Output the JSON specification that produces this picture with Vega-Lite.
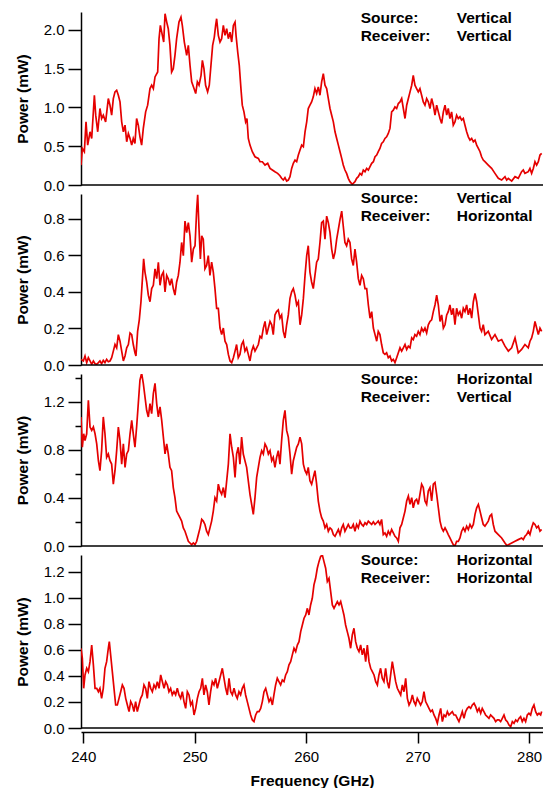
{
  "$schema": "https://vega.github.io/schema/vega-lite/v6.json",
  "background": "white",
  "padding": {"left": 15, "top": 10, "right": 0, "bottom": 2},
  "spacing": 9,
  "bounds": "flush",
  "config": {
    "view": {"stroke": null},
    "font": "Liberation Sans",
    "axis": {
      "grid": false,
      "labelOverlap": false,
      "tickCount": 20,
      "domainColor": "black",
      "domainWidth": 1.5,
      "tickColor": "black",
      "tickWidth": 1.5,
      "labelColor": "black",
      "labelFont": "Liberation Sans",
      "labelFontSize": 15,
      "titleColor": "black",
      "titleFont": "Liberation Sans",
      "titleFontSize": 15.5,
      "titleFontWeight": "bold"
    },
    "text": {"font": "Liberation Sans", "fontSize": 15.5, "fontWeight": "bold", "color": "black", "align": "left", "baseline": "alphabetic", "lineHeight": 18}
  },
  "datasets": {
    "labels": [
      {"panel": "vv", "source": "Vertical", "receiver": "Vertical"},
      {"panel": "vh", "source": "Vertical", "receiver": "Horizontal"},
      {"panel": "hv", "source": "Horizontal", "receiver": "Vertical"},
      {"panel": "hh", "source": "Horizontal", "receiver": "Horizontal"}
    ],
    "vv": [
      {"freq":239.80,"power":0.257},{"freq":239.92,"power":0.471},{"freq":240.10,"power":0.429},{"freq":240.25,"power":0.814},{"freq":240.40,"power":0.514},{"freq":240.61,"power":0.686},{"freq":240.76,"power":0.600},{"freq":241.00,"power":1.157},{"freq":241.12,"power":0.900},{"freq":241.30,"power":0.686},{"freq":241.50,"power":0.986},{"freq":241.65,"power":0.857},{"freq":241.80,"power":0.900},{"freq":242.01,"power":0.814},{"freq":242.25,"power":1.114},{"freq":242.40,"power":1.029},{"freq":242.55,"power":0.900},{"freq":242.70,"power":1.114},{"freq":242.85,"power":1.200},{"freq":243.00,"power":1.221},{"freq":243.15,"power":1.157},{"freq":243.30,"power":1.071},{"freq":243.45,"power":0.814},{"freq":243.60,"power":0.686},{"freq":243.75,"power":0.771},{"freq":243.90,"power":0.557},{"freq":244.05,"power":0.664},{"freq":244.20,"power":0.600},{"freq":244.35,"power":0.514},{"freq":244.49,"power":0.600},{"freq":244.64,"power":0.536},{"freq":244.79,"power":0.857},{"freq":244.94,"power":0.771},{"freq":245.09,"power":0.621},{"freq":245.24,"power":0.514},{"freq":245.39,"power":0.729},{"freq":245.60,"power":0.943},{"freq":245.78,"power":1.029},{"freq":245.99,"power":1.243},{"freq":246.14,"power":1.286},{"freq":246.29,"power":1.243},{"freq":246.44,"power":1.393},{"freq":246.68,"power":1.457},{"freq":246.80,"power":1.886},{"freq":246.92,"power":2.057},{"freq":247.10,"power":1.929},{"freq":247.22,"power":1.843},{"freq":247.34,"power":2.207},{"freq":247.49,"power":2.100},{"freq":247.63,"power":2.014},{"freq":247.78,"power":1.800},{"freq":247.93,"power":1.457},{"freq":248.08,"power":1.500},{"freq":248.23,"power":1.671},{"freq":248.38,"power":1.886},{"freq":248.59,"power":2.100},{"freq":248.77,"power":2.164},{"freq":248.89,"power":2.057},{"freq":249.07,"power":1.843},{"freq":249.28,"power":1.671},{"freq":249.43,"power":1.800},{"freq":249.58,"power":1.543},{"freq":249.73,"power":1.329},{"freq":249.94,"power":1.243},{"freq":250.09,"power":1.179},{"freq":250.24,"power":1.329},{"freq":250.39,"power":1.286},{"freq":250.57,"power":1.414},{"freq":250.69,"power":1.607},{"freq":250.83,"power":1.500},{"freq":250.98,"power":1.286},{"freq":251.16,"power":1.200},{"freq":251.31,"power":1.286},{"freq":251.46,"power":1.543},{"freq":251.61,"power":1.800},{"freq":251.76,"power":1.907},{"freq":251.88,"power":2.057},{"freq":251.97,"power":2.143},{"freq":252.12,"power":1.929},{"freq":252.27,"power":1.843},{"freq":252.42,"power":1.886},{"freq":252.57,"power":2.057},{"freq":252.72,"power":1.929},{"freq":252.87,"power":2.014},{"freq":253.02,"power":1.886},{"freq":253.17,"power":1.971},{"freq":253.32,"power":1.843},{"freq":253.47,"power":2.057},{"freq":253.62,"power":2.100},{"freq":253.71,"power":1.929},{"freq":253.86,"power":1.714},{"freq":254.00,"power":1.543},{"freq":254.15,"power":1.243},{"freq":254.27,"power":1.029},{"freq":254.42,"power":0.943},{"freq":254.57,"power":0.814},{"freq":254.69,"power":0.857},{"freq":254.81,"power":0.600},{"freq":254.96,"power":0.514},{"freq":255.17,"power":0.429},{"freq":255.41,"power":0.364},{"freq":255.71,"power":0.343},{"freq":255.86,"power":0.300},{"freq":256.07,"power":0.300},{"freq":256.31,"power":0.257},{"freq":256.55,"power":0.279},{"freq":256.76,"power":0.214},{"freq":256.97,"power":0.193},{"freq":257.20,"power":0.171},{"freq":257.44,"power":0.150},{"freq":257.65,"power":0.120},{"freq":257.80,"power":0.086},{"freq":257.95,"power":0.064},{"freq":258.10,"power":0.094},{"freq":258.25,"power":0.051},{"freq":258.40,"power":0.064},{"freq":258.55,"power":0.107},{"freq":258.70,"power":0.214},{"freq":258.85,"power":0.279},{"freq":259.00,"power":0.321},{"freq":259.15,"power":0.300},{"freq":259.30,"power":0.386},{"freq":259.45,"power":0.450},{"freq":259.60,"power":0.514},{"freq":259.75,"power":0.493},{"freq":259.90,"power":0.686},{"freq":260.05,"power":0.814},{"freq":260.19,"power":0.986},{"freq":260.34,"power":1.029},{"freq":260.49,"power":1.071},{"freq":260.64,"power":1.136},{"freq":260.79,"power":1.243},{"freq":260.94,"power":1.179},{"freq":261.09,"power":1.264},{"freq":261.24,"power":1.157},{"freq":261.39,"power":1.329},{"freq":261.54,"power":1.436},{"freq":261.69,"power":1.286},{"freq":261.84,"power":1.243},{"freq":261.99,"power":1.114},{"freq":262.14,"power":0.986},{"freq":262.29,"power":0.900},{"freq":262.44,"power":0.814},{"freq":262.59,"power":0.686},{"freq":262.74,"power":0.600},{"freq":262.89,"power":0.514},{"freq":263.04,"power":0.429},{"freq":263.19,"power":0.343},{"freq":263.33,"power":0.257},{"freq":263.48,"power":0.193},{"freq":263.63,"power":0.150},{"freq":263.78,"power":0.086},{"freq":263.93,"power":0.043},{"freq":264.14,"power":0.009},{"freq":264.38,"power":0.043},{"freq":264.53,"power":0.086},{"freq":264.68,"power":0.107},{"freq":264.83,"power":0.150},{"freq":264.98,"power":0.129},{"freq":265.13,"power":0.193},{"freq":265.28,"power":0.171},{"freq":265.43,"power":0.214},{"freq":265.58,"power":0.193},{"freq":265.73,"power":0.236},{"freq":265.88,"power":0.279},{"freq":266.03,"power":0.300},{"freq":266.18,"power":0.364},{"freq":266.33,"power":0.386},{"freq":266.47,"power":0.429},{"freq":266.62,"power":0.471},{"freq":266.77,"power":0.536},{"freq":266.92,"power":0.557},{"freq":267.07,"power":0.600},{"freq":267.22,"power":0.621},{"freq":267.37,"power":0.664},{"freq":267.52,"power":0.729},{"freq":267.67,"power":0.943},{"freq":267.82,"power":0.964},{"freq":267.97,"power":1.007},{"freq":268.12,"power":0.986},{"freq":268.27,"power":1.050},{"freq":268.42,"power":1.071},{"freq":268.57,"power":1.114},{"freq":268.72,"power":0.986},{"freq":268.87,"power":0.857},{"freq":269.02,"power":1.029},{"freq":269.17,"power":1.114},{"freq":269.32,"power":1.200},{"freq":269.47,"power":1.286},{"freq":269.61,"power":1.414},{"freq":269.76,"power":1.286},{"freq":269.91,"power":1.243},{"freq":270.06,"power":1.200},{"freq":270.21,"power":1.243},{"freq":270.36,"power":1.157},{"freq":270.51,"power":1.071},{"freq":270.66,"power":1.029},{"freq":270.81,"power":1.114},{"freq":270.96,"power":1.071},{"freq":271.11,"power":0.986},{"freq":271.26,"power":1.114},{"freq":271.41,"power":1.029},{"freq":271.56,"power":0.900},{"freq":271.71,"power":1.029},{"freq":271.86,"power":0.943},{"freq":272.01,"power":0.857},{"freq":272.16,"power":0.793},{"freq":272.31,"power":0.943},{"freq":272.46,"power":1.029},{"freq":272.61,"power":0.900},{"freq":272.75,"power":0.986},{"freq":272.90,"power":0.857},{"freq":273.05,"power":0.943},{"freq":273.20,"power":0.771},{"freq":273.35,"power":0.814},{"freq":273.50,"power":0.900},{"freq":273.65,"power":0.857},{"freq":273.80,"power":0.879},{"freq":273.95,"power":0.836},{"freq":274.10,"power":0.857},{"freq":274.25,"power":0.771},{"freq":274.40,"power":0.686},{"freq":274.55,"power":0.621},{"freq":274.70,"power":0.579},{"freq":274.85,"power":0.600},{"freq":275.00,"power":0.557},{"freq":275.15,"power":0.579},{"freq":275.30,"power":0.514},{"freq":275.45,"power":0.471},{"freq":275.60,"power":0.429},{"freq":275.74,"power":0.364},{"freq":275.89,"power":0.321},{"freq":276.04,"power":0.300},{"freq":276.34,"power":0.257},{"freq":276.64,"power":0.214},{"freq":276.94,"power":0.150},{"freq":277.24,"power":0.086},{"freq":277.54,"power":0.064},{"freq":277.84,"power":0.107},{"freq":277.99,"power":0.064},{"freq":278.14,"power":0.086},{"freq":278.44,"power":0.051},{"freq":278.74,"power":0.107},{"freq":279.03,"power":0.086},{"freq":279.33,"power":0.171},{"freq":279.48,"power":0.193},{"freq":279.63,"power":0.150},{"freq":279.93,"power":0.171},{"freq":280.08,"power":0.214},{"freq":280.23,"power":0.150},{"freq":280.38,"power":0.214},{"freq":280.53,"power":0.300},{"freq":280.68,"power":0.257},{"freq":280.83,"power":0.300},{"freq":280.98,"power":0.386},{"freq":281.13,"power":0.407}
    ],
    "vh": [
      {"freq":239.80,"power":0.031},{"freq":240.01,"power":0.022},{"freq":240.16,"power":0.049},{"freq":240.31,"power":0.013},{"freq":240.46,"power":0.040},{"freq":240.61,"power":0.022},{"freq":240.76,"power":0.004},{"freq":240.91,"power":0.022},{"freq":241.06,"power":0.007},{"freq":241.21,"power":0.004},{"freq":241.36,"power":0.013},{"freq":241.50,"power":0.022},{"freq":241.65,"power":0.007},{"freq":241.80,"power":0.025},{"freq":241.95,"power":0.013},{"freq":242.10,"power":0.031},{"freq":242.25,"power":0.018},{"freq":242.40,"power":0.022},{"freq":242.55,"power":0.040},{"freq":242.70,"power":0.076},{"freq":242.85,"power":0.112},{"freq":243.00,"power":0.094},{"freq":243.15,"power":0.166},{"freq":243.30,"power":0.130},{"freq":243.45,"power":0.076},{"freq":243.60,"power":0.022},{"freq":243.75,"power":0.049},{"freq":243.90,"power":0.094},{"freq":244.05,"power":0.112},{"freq":244.20,"power":0.175},{"freq":244.35,"power":0.166},{"freq":244.49,"power":0.112},{"freq":244.64,"power":0.067},{"freq":244.73,"power":0.049},{"freq":244.88,"power":0.184},{"freq":245.03,"power":0.247},{"freq":245.18,"power":0.346},{"freq":245.33,"power":0.490},{"freq":245.42,"power":0.580},{"freq":245.54,"power":0.508},{"freq":245.69,"power":0.454},{"freq":245.84,"power":0.382},{"freq":245.99,"power":0.346},{"freq":246.14,"power":0.418},{"freq":246.29,"power":0.436},{"freq":246.44,"power":0.526},{"freq":246.59,"power":0.472},{"freq":246.74,"power":0.562},{"freq":246.89,"power":0.436},{"freq":247.04,"power":0.490},{"freq":247.19,"power":0.508},{"freq":247.34,"power":0.400},{"freq":247.49,"power":0.490},{"freq":247.63,"power":0.472},{"freq":247.78,"power":0.436},{"freq":247.93,"power":0.472},{"freq":248.08,"power":0.418},{"freq":248.23,"power":0.382},{"freq":248.38,"power":0.454},{"freq":248.53,"power":0.490},{"freq":248.68,"power":0.562},{"freq":248.83,"power":0.670},{"freq":248.98,"power":0.598},{"freq":249.13,"power":0.787},{"freq":249.28,"power":0.724},{"freq":249.43,"power":0.778},{"freq":249.58,"power":0.706},{"freq":249.73,"power":0.562},{"freq":249.88,"power":0.634},{"freq":250.03,"power":0.652},{"freq":250.18,"power":0.850},{"freq":250.27,"power":0.931},{"freq":250.39,"power":0.742},{"freq":250.51,"power":0.580},{"freq":250.63,"power":0.706},{"freq":250.77,"power":0.688},{"freq":250.92,"power":0.526},{"freq":251.07,"power":0.544},{"freq":251.22,"power":0.598},{"freq":251.37,"power":0.490},{"freq":251.52,"power":0.562},{"freq":251.67,"power":0.508},{"freq":251.82,"power":0.418},{"freq":251.97,"power":0.310},{"freq":252.12,"power":0.310},{"freq":252.27,"power":0.202},{"freq":252.42,"power":0.166},{"freq":252.57,"power":0.202},{"freq":252.72,"power":0.130},{"freq":252.87,"power":0.112},{"freq":253.02,"power":0.058},{"freq":253.17,"power":0.022},{"freq":253.32,"power":0.013},{"freq":253.47,"power":0.040},{"freq":253.62,"power":0.076},{"freq":253.76,"power":0.112},{"freq":253.91,"power":0.040},{"freq":254.06,"power":0.058},{"freq":254.21,"power":0.112},{"freq":254.36,"power":0.130},{"freq":254.51,"power":0.076},{"freq":254.66,"power":0.094},{"freq":254.81,"power":0.058},{"freq":254.96,"power":0.022},{"freq":255.11,"power":0.076},{"freq":255.26,"power":0.103},{"freq":255.41,"power":0.076},{"freq":255.56,"power":0.094},{"freq":255.71,"power":0.112},{"freq":255.86,"power":0.157},{"freq":256.01,"power":0.148},{"freq":256.16,"power":0.202},{"freq":256.31,"power":0.238},{"freq":256.46,"power":0.166},{"freq":256.61,"power":0.202},{"freq":256.76,"power":0.238},{"freq":256.91,"power":0.220},{"freq":257.05,"power":0.166},{"freq":257.20,"power":0.274},{"freq":257.35,"power":0.292},{"freq":257.50,"power":0.301},{"freq":257.65,"power":0.256},{"freq":257.80,"power":0.274},{"freq":257.95,"power":0.184},{"freq":258.10,"power":0.148},{"freq":258.25,"power":0.220},{"freq":258.40,"power":0.274},{"freq":258.55,"power":0.364},{"freq":258.70,"power":0.400},{"freq":258.85,"power":0.418},{"freq":259.00,"power":0.382},{"freq":259.15,"power":0.328},{"freq":259.30,"power":0.346},{"freq":259.45,"power":0.220},{"freq":259.60,"power":0.274},{"freq":259.75,"power":0.364},{"freq":259.90,"power":0.490},{"freq":260.05,"power":0.598},{"freq":260.19,"power":0.652},{"freq":260.34,"power":0.508},{"freq":260.49,"power":0.454},{"freq":260.64,"power":0.418},{"freq":260.79,"power":0.490},{"freq":260.94,"power":0.562},{"freq":261.09,"power":0.580},{"freq":261.24,"power":0.670},{"freq":261.39,"power":0.778},{"freq":261.54,"power":0.787},{"freq":261.69,"power":0.688},{"freq":261.84,"power":0.814},{"freq":261.99,"power":0.778},{"freq":262.14,"power":0.724},{"freq":262.29,"power":0.634},{"freq":262.44,"power":0.580},{"freq":262.59,"power":0.616},{"freq":262.74,"power":0.688},{"freq":262.89,"power":0.742},{"freq":263.04,"power":0.796},{"freq":263.19,"power":0.841},{"freq":263.33,"power":0.760},{"freq":263.48,"power":0.670},{"freq":263.63,"power":0.652},{"freq":263.78,"power":0.688},{"freq":263.93,"power":0.670},{"freq":264.08,"power":0.580},{"freq":264.23,"power":0.544},{"freq":264.38,"power":0.634},{"freq":264.53,"power":0.562},{"freq":264.68,"power":0.472},{"freq":264.83,"power":0.436},{"freq":264.98,"power":0.490},{"freq":265.13,"power":0.472},{"freq":265.28,"power":0.418},{"freq":265.43,"power":0.418},{"freq":265.58,"power":0.328},{"freq":265.73,"power":0.256},{"freq":265.88,"power":0.292},{"freq":266.03,"power":0.202},{"freq":266.18,"power":0.166},{"freq":266.33,"power":0.130},{"freq":266.47,"power":0.184},{"freq":266.62,"power":0.166},{"freq":266.77,"power":0.112},{"freq":266.92,"power":0.067},{"freq":267.07,"power":0.058},{"freq":267.22,"power":0.067},{"freq":267.37,"power":0.040},{"freq":267.52,"power":0.049},{"freq":267.67,"power":0.022},{"freq":267.82,"power":0.031},{"freq":267.97,"power":0.013},{"freq":268.12,"power":0.040},{"freq":268.27,"power":0.067},{"freq":268.42,"power":0.094},{"freq":268.57,"power":0.076},{"freq":268.72,"power":0.094},{"freq":268.87,"power":0.112},{"freq":269.02,"power":0.085},{"freq":269.17,"power":0.103},{"freq":269.32,"power":0.094},{"freq":269.47,"power":0.148},{"freq":269.61,"power":0.139},{"freq":269.76,"power":0.166},{"freq":269.91,"power":0.157},{"freq":270.06,"power":0.184},{"freq":270.21,"power":0.166},{"freq":270.36,"power":0.202},{"freq":270.51,"power":0.184},{"freq":270.66,"power":0.202},{"freq":270.81,"power":0.175},{"freq":270.96,"power":0.220},{"freq":271.11,"power":0.238},{"freq":271.26,"power":0.247},{"freq":271.41,"power":0.292},{"freq":271.56,"power":0.328},{"freq":271.71,"power":0.382},{"freq":271.86,"power":0.328},{"freq":272.01,"power":0.238},{"freq":272.16,"power":0.274},{"freq":272.31,"power":0.202},{"freq":272.46,"power":0.220},{"freq":272.61,"power":0.274},{"freq":272.75,"power":0.292},{"freq":272.90,"power":0.328},{"freq":273.05,"power":0.274},{"freq":273.20,"power":0.310},{"freq":273.35,"power":0.220},{"freq":273.50,"power":0.310},{"freq":273.65,"power":0.274},{"freq":273.80,"power":0.292},{"freq":273.95,"power":0.256},{"freq":274.10,"power":0.310},{"freq":274.25,"power":0.292},{"freq":274.40,"power":0.328},{"freq":274.55,"power":0.274},{"freq":274.70,"power":0.310},{"freq":274.85,"power":0.256},{"freq":275.00,"power":0.346},{"freq":275.15,"power":0.391},{"freq":275.30,"power":0.346},{"freq":275.45,"power":0.274},{"freq":275.60,"power":0.202},{"freq":275.74,"power":0.184},{"freq":275.89,"power":0.220},{"freq":276.04,"power":0.166},{"freq":276.34,"power":0.184},{"freq":276.64,"power":0.139},{"freq":276.94,"power":0.166},{"freq":277.24,"power":0.130},{"freq":277.54,"power":0.139},{"freq":277.84,"power":0.103},{"freq":278.14,"power":0.076},{"freq":278.44,"power":0.094},{"freq":278.74,"power":0.148},{"freq":279.03,"power":0.067},{"freq":279.33,"power":0.085},{"freq":279.63,"power":0.112},{"freq":279.93,"power":0.094},{"freq":280.08,"power":0.130},{"freq":280.23,"power":0.148},{"freq":280.38,"power":0.184},{"freq":280.53,"power":0.238},{"freq":280.68,"power":0.202},{"freq":280.83,"power":0.166},{"freq":280.98,"power":0.202},{"freq":281.13,"power":0.184}
    ],
    "hv": [
      {"freq":239.80,"power":1.073},{"freq":239.92,"power":0.821},{"freq":240.04,"power":0.933},{"freq":240.16,"power":0.877},{"freq":240.31,"power":0.933},{"freq":240.46,"power":1.212},{"freq":240.61,"power":0.989},{"freq":240.76,"power":0.961},{"freq":240.91,"power":0.989},{"freq":241.06,"power":0.933},{"freq":241.21,"power":0.849},{"freq":241.36,"power":0.709},{"freq":241.50,"power":0.626},{"freq":241.65,"power":0.793},{"freq":241.80,"power":1.073},{"freq":241.95,"power":0.933},{"freq":242.10,"power":0.737},{"freq":242.25,"power":0.765},{"freq":242.40,"power":0.709},{"freq":242.55,"power":0.681},{"freq":242.70,"power":0.514},{"freq":242.85,"power":0.626},{"freq":243.00,"power":0.793},{"freq":243.15,"power":0.989},{"freq":243.30,"power":0.877},{"freq":243.45,"power":0.681},{"freq":243.60,"power":0.849},{"freq":243.75,"power":0.654},{"freq":243.90,"power":0.765},{"freq":244.05,"power":0.793},{"freq":244.20,"power":0.933},{"freq":244.35,"power":1.045},{"freq":244.49,"power":0.933},{"freq":244.64,"power":0.821},{"freq":244.79,"power":0.989},{"freq":244.94,"power":1.184},{"freq":245.09,"power":1.380},{"freq":245.24,"power":1.436},{"freq":245.39,"power":1.352},{"freq":245.54,"power":1.240},{"freq":245.69,"power":1.128},{"freq":245.84,"power":1.073},{"freq":245.99,"power":1.184},{"freq":246.14,"power":1.100},{"freq":246.29,"power":1.268},{"freq":246.44,"power":1.352},{"freq":246.59,"power":1.184},{"freq":246.74,"power":1.073},{"freq":246.89,"power":1.156},{"freq":247.04,"power":1.045},{"freq":247.19,"power":0.905},{"freq":247.34,"power":0.765},{"freq":247.49,"power":0.849},{"freq":247.63,"power":0.765},{"freq":247.78,"power":0.654},{"freq":247.93,"power":0.626},{"freq":248.08,"power":0.486},{"freq":248.23,"power":0.402},{"freq":248.38,"power":0.290},{"freq":248.53,"power":0.263},{"freq":248.68,"power":0.235},{"freq":248.83,"power":0.207},{"freq":248.98,"power":0.151},{"freq":249.13,"power":0.123},{"freq":249.28,"power":0.081},{"freq":249.43,"power":0.039},{"freq":249.58,"power":0.025},{"freq":249.73,"power":0.011},{"freq":249.88,"power":0.025},{"freq":250.03,"power":0.011},{"freq":250.18,"power":0.039},{"freq":250.33,"power":0.095},{"freq":250.48,"power":0.151},{"freq":250.63,"power":0.221},{"freq":250.77,"power":0.207},{"freq":250.92,"power":0.179},{"freq":251.07,"power":0.123},{"freq":251.22,"power":0.095},{"freq":251.37,"power":0.151},{"freq":251.52,"power":0.207},{"freq":251.67,"power":0.290},{"freq":251.82,"power":0.402},{"freq":251.97,"power":0.374},{"freq":252.12,"power":0.514},{"freq":252.27,"power":0.458},{"freq":252.42,"power":0.430},{"freq":252.57,"power":0.486},{"freq":252.72,"power":0.402},{"freq":252.87,"power":0.542},{"freq":253.02,"power":0.681},{"freq":253.17,"power":0.933},{"freq":253.32,"power":0.821},{"freq":253.47,"power":0.737},{"freq":253.62,"power":0.570},{"freq":253.76,"power":0.765},{"freq":253.91,"power":0.821},{"freq":254.06,"power":0.681},{"freq":254.21,"power":0.905},{"freq":254.36,"power":0.765},{"freq":254.51,"power":0.709},{"freq":254.66,"power":0.654},{"freq":254.81,"power":0.542},{"freq":254.96,"power":0.430},{"freq":255.11,"power":0.346},{"freq":255.26,"power":0.263},{"freq":255.41,"power":0.402},{"freq":255.56,"power":0.570},{"freq":255.71,"power":0.654},{"freq":255.86,"power":0.737},{"freq":256.01,"power":0.793},{"freq":256.16,"power":0.765},{"freq":256.31,"power":0.849},{"freq":256.46,"power":0.821},{"freq":256.61,"power":0.765},{"freq":256.76,"power":0.793},{"freq":256.91,"power":0.709},{"freq":257.05,"power":0.737},{"freq":257.20,"power":0.654},{"freq":257.35,"power":0.737},{"freq":257.50,"power":0.793},{"freq":257.65,"power":0.681},{"freq":257.80,"power":0.877},{"freq":257.95,"power":1.045},{"freq":258.10,"power":1.128},{"freq":258.25,"power":0.961},{"freq":258.40,"power":0.905},{"freq":258.55,"power":0.765},{"freq":258.70,"power":0.598},{"freq":258.85,"power":0.709},{"freq":259.00,"power":0.765},{"freq":259.15,"power":0.821},{"freq":259.30,"power":0.849},{"freq":259.45,"power":0.905},{"freq":259.60,"power":0.849},{"freq":259.75,"power":0.681},{"freq":259.90,"power":0.626},{"freq":260.05,"power":0.598},{"freq":260.19,"power":0.654},{"freq":260.34,"power":0.542},{"freq":260.49,"power":0.514},{"freq":260.64,"power":0.570},{"freq":260.79,"power":0.626},{"freq":260.94,"power":0.514},{"freq":261.09,"power":0.374},{"freq":261.24,"power":0.290},{"freq":261.39,"power":0.235},{"freq":261.54,"power":0.207},{"freq":261.69,"power":0.151},{"freq":261.84,"power":0.179},{"freq":261.99,"power":0.123},{"freq":262.14,"power":0.151},{"freq":262.29,"power":0.137},{"freq":262.44,"power":0.095},{"freq":262.59,"power":0.081},{"freq":262.74,"power":0.109},{"freq":262.89,"power":0.137},{"freq":263.04,"power":0.095},{"freq":263.19,"power":0.151},{"freq":263.33,"power":0.179},{"freq":263.48,"power":0.123},{"freq":263.63,"power":0.151},{"freq":263.78,"power":0.179},{"freq":263.93,"power":0.151},{"freq":264.08,"power":0.151},{"freq":264.23,"power":0.179},{"freq":264.38,"power":0.123},{"freq":264.53,"power":0.179},{"freq":264.68,"power":0.151},{"freq":264.83,"power":0.207},{"freq":264.98,"power":0.179},{"freq":265.13,"power":0.165},{"freq":265.28,"power":0.193},{"freq":265.43,"power":0.179},{"freq":265.58,"power":0.207},{"freq":265.73,"power":0.193},{"freq":265.88,"power":0.179},{"freq":266.03,"power":0.201},{"freq":266.18,"power":0.179},{"freq":266.33,"power":0.193},{"freq":266.47,"power":0.207},{"freq":266.62,"power":0.179},{"freq":266.77,"power":0.221},{"freq":266.92,"power":0.095},{"freq":267.07,"power":0.109},{"freq":267.22,"power":0.081},{"freq":267.37,"power":0.123},{"freq":267.52,"power":0.095},{"freq":267.67,"power":0.137},{"freq":267.82,"power":0.109},{"freq":267.97,"power":0.081},{"freq":268.12,"power":0.067},{"freq":268.27,"power":0.039},{"freq":268.42,"power":0.151},{"freq":268.57,"power":0.179},{"freq":268.72,"power":0.235},{"freq":268.87,"power":0.290},{"freq":269.02,"power":0.374},{"freq":269.17,"power":0.416},{"freq":269.32,"power":0.346},{"freq":269.47,"power":0.402},{"freq":269.61,"power":0.318},{"freq":269.76,"power":0.374},{"freq":269.91,"power":0.388},{"freq":270.06,"power":0.346},{"freq":270.21,"power":0.430},{"freq":270.36,"power":0.514},{"freq":270.51,"power":0.486},{"freq":270.66,"power":0.374},{"freq":270.81,"power":0.346},{"freq":270.96,"power":0.458},{"freq":271.11,"power":0.486},{"freq":271.26,"power":0.374},{"freq":271.41,"power":0.514},{"freq":271.56,"power":0.528},{"freq":271.71,"power":0.430},{"freq":271.86,"power":0.318},{"freq":272.01,"power":0.207},{"freq":272.16,"power":0.151},{"freq":272.31,"power":0.123},{"freq":272.46,"power":0.151},{"freq":272.61,"power":0.123},{"freq":272.75,"power":0.095},{"freq":272.90,"power":0.067},{"freq":273.05,"power":0.039},{"freq":273.20,"power":0.011},{"freq":273.35,"power":0.000},{"freq":273.50,"power":0.039},{"freq":273.65,"power":0.039},{"freq":273.80,"power":0.067},{"freq":273.95,"power":0.123},{"freq":274.10,"power":0.151},{"freq":274.25,"power":0.123},{"freq":274.40,"power":0.165},{"freq":274.55,"power":0.137},{"freq":274.70,"power":0.179},{"freq":274.85,"power":0.151},{"freq":275.00,"power":0.179},{"freq":275.15,"power":0.263},{"freq":275.30,"power":0.318},{"freq":275.45,"power":0.346},{"freq":275.60,"power":0.290},{"freq":275.74,"power":0.235},{"freq":275.89,"power":0.179},{"freq":276.04,"power":0.165},{"freq":276.34,"power":0.207},{"freq":276.49,"power":0.249},{"freq":276.64,"power":0.263},{"freq":276.79,"power":0.179},{"freq":276.94,"power":0.123},{"freq":277.24,"power":0.095},{"freq":277.54,"power":0.067},{"freq":277.84,"power":0.025},{"freq":277.99,"power":0.006},{"freq":278.14,"power":0.011},{"freq":278.44,"power":0.025},{"freq":278.74,"power":0.039},{"freq":279.03,"power":0.053},{"freq":279.33,"power":0.067},{"freq":279.48,"power":0.053},{"freq":279.63,"power":0.081},{"freq":279.78,"power":0.095},{"freq":279.93,"power":0.123},{"freq":280.08,"power":0.095},{"freq":280.23,"power":0.151},{"freq":280.38,"power":0.193},{"freq":280.53,"power":0.179},{"freq":280.68,"power":0.151},{"freq":280.83,"power":0.165},{"freq":280.98,"power":0.123},{"freq":281.13,"power":0.137}
    ],
    "hh": [
      {"freq":239.80,"power":0.613},{"freq":239.92,"power":0.536},{"freq":240.04,"power":0.305},{"freq":240.16,"power":0.408},{"freq":240.31,"power":0.459},{"freq":240.46,"power":0.433},{"freq":240.61,"power":0.510},{"freq":240.76,"power":0.638},{"freq":240.91,"power":0.485},{"freq":241.06,"power":0.305},{"freq":241.21,"power":0.305},{"freq":241.36,"power":0.279},{"freq":241.50,"power":0.305},{"freq":241.65,"power":0.228},{"freq":241.80,"power":0.305},{"freq":241.95,"power":0.459},{"freq":242.10,"power":0.510},{"freq":242.25,"power":0.613},{"freq":242.34,"power":0.664},{"freq":242.49,"power":0.536},{"freq":242.61,"power":0.433},{"freq":242.76,"power":0.305},{"freq":242.91,"power":0.177},{"freq":243.06,"power":0.177},{"freq":243.21,"power":0.228},{"freq":243.36,"power":0.279},{"freq":243.51,"power":0.331},{"freq":243.66,"power":0.305},{"freq":243.81,"power":0.228},{"freq":243.96,"power":0.177},{"freq":244.11,"power":0.126},{"freq":244.26,"power":0.203},{"freq":244.41,"power":0.177},{"freq":244.55,"power":0.126},{"freq":244.70,"power":0.203},{"freq":244.85,"power":0.126},{"freq":245.00,"power":0.177},{"freq":245.15,"power":0.228},{"freq":245.30,"power":0.254},{"freq":245.45,"power":0.331},{"freq":245.60,"power":0.305},{"freq":245.75,"power":0.228},{"freq":245.90,"power":0.356},{"freq":246.05,"power":0.305},{"freq":246.20,"power":0.279},{"freq":246.35,"power":0.331},{"freq":246.50,"power":0.305},{"freq":246.65,"power":0.356},{"freq":246.80,"power":0.305},{"freq":246.95,"power":0.408},{"freq":247.10,"power":0.356},{"freq":247.25,"power":0.305},{"freq":247.40,"power":0.356},{"freq":247.55,"power":0.331},{"freq":247.69,"power":0.279},{"freq":247.84,"power":0.305},{"freq":247.99,"power":0.254},{"freq":248.14,"power":0.279},{"freq":248.29,"power":0.254},{"freq":248.44,"power":0.305},{"freq":248.59,"power":0.254},{"freq":248.74,"power":0.228},{"freq":248.89,"power":0.279},{"freq":249.04,"power":0.203},{"freq":249.19,"power":0.151},{"freq":249.34,"power":0.279},{"freq":249.49,"power":0.254},{"freq":249.64,"power":0.177},{"freq":249.79,"power":0.203},{"freq":249.94,"power":0.100},{"freq":250.09,"power":0.151},{"freq":250.24,"power":0.228},{"freq":250.39,"power":0.279},{"freq":250.54,"power":0.305},{"freq":250.69,"power":0.382},{"freq":250.83,"power":0.254},{"freq":250.98,"power":0.331},{"freq":251.13,"power":0.279},{"freq":251.28,"power":0.177},{"freq":251.43,"power":0.279},{"freq":251.58,"power":0.356},{"freq":251.73,"power":0.331},{"freq":251.88,"power":0.382},{"freq":252.03,"power":0.305},{"freq":252.18,"power":0.356},{"freq":252.33,"power":0.408},{"freq":252.48,"power":0.459},{"freq":252.63,"power":0.382},{"freq":252.78,"power":0.305},{"freq":252.93,"power":0.254},{"freq":253.08,"power":0.382},{"freq":253.23,"power":0.279},{"freq":253.38,"power":0.254},{"freq":253.53,"power":0.305},{"freq":253.68,"power":0.254},{"freq":253.82,"power":0.228},{"freq":253.97,"power":0.279},{"freq":254.12,"power":0.254},{"freq":254.27,"power":0.305},{"freq":254.42,"power":0.331},{"freq":254.57,"power":0.254},{"freq":254.72,"power":0.203},{"freq":254.87,"power":0.151},{"freq":255.02,"power":0.100},{"freq":255.17,"power":0.062},{"freq":255.32,"power":0.049},{"freq":255.47,"power":0.100},{"freq":255.62,"power":0.126},{"freq":255.77,"power":0.126},{"freq":255.92,"power":0.151},{"freq":256.07,"power":0.203},{"freq":256.22,"power":0.279},{"freq":256.37,"power":0.305},{"freq":256.52,"power":0.254},{"freq":256.67,"power":0.203},{"freq":256.82,"power":0.228},{"freq":256.97,"power":0.177},{"freq":257.11,"power":0.254},{"freq":257.26,"power":0.331},{"freq":257.41,"power":0.382},{"freq":257.56,"power":0.356},{"freq":257.71,"power":0.331},{"freq":257.86,"power":0.369},{"freq":258.01,"power":0.356},{"freq":258.16,"power":0.408},{"freq":258.31,"power":0.433},{"freq":258.46,"power":0.485},{"freq":258.61,"power":0.510},{"freq":258.76,"power":0.562},{"freq":258.91,"power":0.613},{"freq":259.06,"power":0.587},{"freq":259.21,"power":0.638},{"freq":259.36,"power":0.664},{"freq":259.51,"power":0.741},{"freq":259.66,"power":0.792},{"freq":259.81,"power":0.844},{"freq":259.96,"power":0.869},{"freq":260.11,"power":0.920},{"freq":260.25,"power":0.869},{"freq":260.40,"power":0.946},{"freq":260.55,"power":0.997},{"freq":260.70,"power":1.100},{"freq":260.85,"power":1.151},{"freq":261.00,"power":1.228},{"freq":261.15,"power":1.279},{"freq":261.30,"power":1.318},{"freq":261.45,"power":1.331},{"freq":261.60,"power":1.279},{"freq":261.75,"power":1.228},{"freq":261.90,"power":1.126},{"freq":262.05,"power":1.151},{"freq":262.20,"power":1.049},{"freq":262.35,"power":0.946},{"freq":262.50,"power":0.920},{"freq":262.65,"power":0.946},{"freq":262.80,"power":0.972},{"freq":262.95,"power":0.946},{"freq":263.10,"power":0.972},{"freq":263.25,"power":0.920},{"freq":263.39,"power":0.869},{"freq":263.54,"power":0.792},{"freq":263.69,"power":0.741},{"freq":263.84,"power":0.690},{"freq":263.99,"power":0.613},{"freq":264.14,"power":0.715},{"freq":264.29,"power":0.767},{"freq":264.44,"power":0.664},{"freq":264.59,"power":0.613},{"freq":264.74,"power":0.587},{"freq":264.89,"power":0.638},{"freq":265.04,"power":0.562},{"freq":265.19,"power":0.613},{"freq":265.34,"power":0.510},{"freq":265.49,"power":0.638},{"freq":265.64,"power":0.510},{"freq":265.79,"power":0.459},{"freq":265.94,"power":0.433},{"freq":266.09,"power":0.408},{"freq":266.24,"power":0.356},{"freq":266.39,"power":0.331},{"freq":266.53,"power":0.408},{"freq":266.68,"power":0.459},{"freq":266.83,"power":0.382},{"freq":266.98,"power":0.356},{"freq":267.13,"power":0.459},{"freq":267.28,"power":0.356},{"freq":267.43,"power":0.305},{"freq":267.58,"power":0.408},{"freq":267.73,"power":0.510},{"freq":267.88,"power":0.433},{"freq":268.03,"power":0.356},{"freq":268.18,"power":0.305},{"freq":268.33,"power":0.279},{"freq":268.48,"power":0.254},{"freq":268.63,"power":0.331},{"freq":268.78,"power":0.279},{"freq":268.93,"power":0.382},{"freq":269.08,"power":0.228},{"freq":269.23,"power":0.177},{"freq":269.38,"power":0.203},{"freq":269.53,"power":0.254},{"freq":269.67,"power":0.203},{"freq":269.82,"power":0.177},{"freq":269.97,"power":0.228},{"freq":270.12,"power":0.203},{"freq":270.27,"power":0.177},{"freq":270.42,"power":0.203},{"freq":270.57,"power":0.279},{"freq":270.72,"power":0.203},{"freq":270.87,"power":0.177},{"freq":271.02,"power":0.151},{"freq":271.17,"power":0.126},{"freq":271.32,"power":0.138},{"freq":271.47,"power":0.100},{"freq":271.62,"power":0.074},{"freq":271.77,"power":0.036},{"freq":271.92,"power":0.100},{"freq":272.07,"power":0.151},{"freq":272.22,"power":0.049},{"freq":272.37,"power":0.100},{"freq":272.52,"power":0.087},{"freq":272.67,"power":0.126},{"freq":272.81,"power":0.100},{"freq":272.96,"power":0.113},{"freq":273.11,"power":0.126},{"freq":273.26,"power":0.100},{"freq":273.41,"power":0.100},{"freq":273.56,"power":0.074},{"freq":273.71,"power":0.049},{"freq":273.86,"power":0.087},{"freq":274.01,"power":0.126},{"freq":274.16,"power":0.074},{"freq":274.31,"power":0.126},{"freq":274.46,"power":0.151},{"freq":274.61,"power":0.164},{"freq":274.76,"power":0.151},{"freq":274.91,"power":0.177},{"freq":275.06,"power":0.190},{"freq":275.21,"power":0.164},{"freq":275.36,"power":0.126},{"freq":275.51,"power":0.151},{"freq":275.66,"power":0.113},{"freq":275.80,"power":0.151},{"freq":275.95,"power":0.126},{"freq":276.10,"power":0.100},{"freq":276.25,"power":0.087},{"freq":276.40,"power":0.074},{"freq":276.55,"power":0.100},{"freq":276.70,"power":0.087},{"freq":276.85,"power":0.074},{"freq":277.00,"power":0.049},{"freq":277.15,"power":0.062},{"freq":277.30,"power":0.062},{"freq":277.45,"power":0.049},{"freq":277.60,"power":0.074},{"freq":277.75,"power":0.100},{"freq":277.90,"power":0.062},{"freq":278.05,"power":0.049},{"freq":278.20,"power":0.023},{"freq":278.35,"power":0.010},{"freq":278.50,"power":0.049},{"freq":278.65,"power":0.036},{"freq":278.80,"power":0.062},{"freq":278.95,"power":0.049},{"freq":279.09,"power":0.074},{"freq":279.24,"power":0.087},{"freq":279.39,"power":0.049},{"freq":279.54,"power":0.074},{"freq":279.69,"power":0.049},{"freq":279.84,"power":0.100},{"freq":279.99,"power":0.113},{"freq":280.14,"power":0.100},{"freq":280.29,"power":0.151},{"freq":280.44,"power":0.177},{"freq":280.59,"power":0.126},{"freq":280.74,"power":0.100},{"freq":280.89,"power":0.113},{"freq":281.04,"power":0.100},{"freq":281.13,"power":0.126}
    ]
  },
  "vconcat": [
    {
      "width": 462,
      "height": 173,
      "layer": [
        {
          "data": {"name": "vv"},
          "mark": {"type": "line", "color": "#e50000", "strokeWidth": 1.7, "clip": true},
          "encoding": {
            "x": {"field": "freq", "type": "quantitative", "scale": {"domain": [239.8, 281.25], "nice": false, "zero": false}, "axis": null},
            "y": {"field": "power", "type": "quantitative", "scale": {"domain": [0, 2.23], "nice": false}, "axis": {"title": "Power (mW)", "values": [0, 0.5, 1, 1.5, 2], "tickCount": 20, "format": ".1f", "tickSize": 13, "labelPadding": 4, "titlePadding": 13, "labelOverlap": false}}
          }
        },
        {
          "data": {"name": "labels"},
          "transform": [{"filter": "datum.panel === 'vv'"}],
          "mark": {"type": "rule", "color": "black", "strokeWidth": 1.5},
          "encoding": {"y": {"datum": 0}}
        },
        {
          "data": {"name": "labels"},
          "transform": [{"filter": "datum.panel === 'vv'"}],
          "mark": {"type": "text", "text": ["Source:", "Receiver:"]},
          "encoding": {"x": {"datum": 264.89}, "y": {"datum": 2.092}}
        },
        {
          "data": {"name": "labels"},
          "transform": [{"filter": "datum.panel === 'vv'"}],
          "mark": {"type": "text", "text": ["Vertical", "Vertical"]},
          "encoding": {"x": {"datum": 273.51}, "y": {"datum": 2.092}}
        }
      ]
    },
    {
      "width": 462,
      "height": 171,
      "layer": [
        {
          "data": {"name": "vh"},
          "mark": {"type": "line", "color": "#e50000", "strokeWidth": 1.7, "clip": true},
          "encoding": {
            "x": {"field": "freq", "type": "quantitative", "scale": {"domain": [239.8, 281.25], "nice": false, "zero": false}, "axis": null},
            "y": {"field": "power", "type": "quantitative", "scale": {"domain": [0, 0.935], "nice": false}, "axis": {"title": "Power (mW)", "values": [0, 0.2, 0.4, 0.6, 0.8], "tickCount": 20, "format": ".1f", "tickSize": 13, "labelPadding": 4, "titlePadding": 13, "labelOverlap": false}}
          }
        },
        {
          "data": {"name": "labels"},
          "transform": [{"filter": "datum.panel === 'vh'"}],
          "mark": {"type": "rule", "color": "black", "strokeWidth": 1.5},
          "encoding": {"y": {"datum": 0}}
        },
        {
          "data": {"name": "labels"},
          "transform": [{"filter": "datum.panel === 'vh'"}],
          "mark": {"type": "text", "text": ["Source:", "Receiver:"]},
          "encoding": {"x": {"datum": 264.89}, "y": {"datum": 0.886}}
        },
        {
          "data": {"name": "labels"},
          "transform": [{"filter": "datum.panel === 'vh'"}],
          "mark": {"type": "text", "text": ["Vertical", "Horizontal"]},
          "encoding": {"x": {"datum": 273.51}, "y": {"datum": 0.886}}
        }
      ]
    },
    {
      "width": 462,
      "height": 172,
      "layer": [
        {
          "data": {"name": "hv"},
          "mark": {"type": "line", "color": "#e50000", "strokeWidth": 1.7, "clip": true},
          "encoding": {
            "x": {"field": "freq", "type": "quantitative", "scale": {"domain": [239.8, 281.25], "nice": false, "zero": false}, "axis": null},
            "y": {"field": "power", "type": "quantitative", "scale": {"domain": [0, 1.43], "nice": false}, "axis": {"title": "Power (mW)", "values": [0, 0.2, 0.4, 0.6, 0.8, 1.0, 1.2, 1.4], "tickCount": 20, "labelExpr": "abs(datum.value * 2.5 - round(datum.value * 2.5)) < 0.01 ? format(datum.value, '.1f') : ''", "tickSize": {"condition": {"test": "abs(datum.value * 2.5 - round(datum.value * 2.5)) < 0.01", "value": 13}, "value": 6}, "labelPadding": 4, "titlePadding": 13, "labelOverlap": false}}
          }
        },
        {
          "data": {"name": "labels"},
          "transform": [{"filter": "datum.panel === 'hv'"}],
          "mark": {"type": "rule", "color": "black", "strokeWidth": 1.5},
          "encoding": {"y": {"datum": 0}}
        },
        {
          "data": {"name": "labels"},
          "transform": [{"filter": "datum.panel === 'hv'"}],
          "mark": {"type": "text", "text": ["Source:", "Receiver:"]},
          "encoding": {"x": {"datum": 264.89}, "y": {"datum": 1.347}}
        },
        {
          "data": {"name": "labels"},
          "transform": [{"filter": "datum.panel === 'hv'"}],
          "mark": {"type": "text", "text": ["Horizontal", "Vertical"]},
          "encoding": {"x": {"datum": 273.51}, "y": {"datum": 1.347}}
        }
      ]
    },
    {
      "width": 462,
      "height": 173,
      "layer": [
        {
          "data": {"name": "hh"},
          "mark": {"type": "line", "color": "#e50000", "strokeWidth": 1.7, "clip": true},
          "encoding": {
            "x": {"field": "freq", "type": "quantitative", "scale": {"domain": [239.8, 281.25], "nice": false, "zero": false}, "axis": {"title": "Frequency (GHz)", "values": [240, 250, 260, 270, 280], "tickCount": 20, "format": "d", "tickSize": 11, "offset": 4, "labelPadding": 6, "titlePadding": 9, "labelFlush": false, "labelOverlap": false}},
            "y": {"field": "power", "type": "quantitative", "scale": {"domain": [0, 1.33], "nice": false}, "axis": {"title": "Power (mW)", "values": [0, 0.2, 0.4, 0.6, 0.8, 1.0, 1.2], "tickCount": 20, "format": ".1f", "tickSize": 13, "labelPadding": 4, "titlePadding": 13, "labelOverlap": false}}
          }
        },
        {
          "data": {"name": "labels"},
          "transform": [{"filter": "datum.panel === 'hh'"}],
          "mark": {"type": "rule", "color": "black", "strokeWidth": 1.5},
          "encoding": {"y": {"datum": 0}}
        },
        {
          "data": {"name": "labels"},
          "transform": [{"filter": "datum.panel === 'hh'"}],
          "mark": {"type": "text", "text": ["Source:", "Receiver:"]},
          "encoding": {"x": {"datum": 264.89}, "y": {"datum": 1.255}}
        },
        {
          "data": {"name": "labels"},
          "transform": [{"filter": "datum.panel === 'hh'"}],
          "mark": {"type": "text", "text": ["Horizontal", "Horizontal"]},
          "encoding": {"x": {"datum": 273.51}, "y": {"datum": 1.255}}
        }
      ]
    }
  ]
}
